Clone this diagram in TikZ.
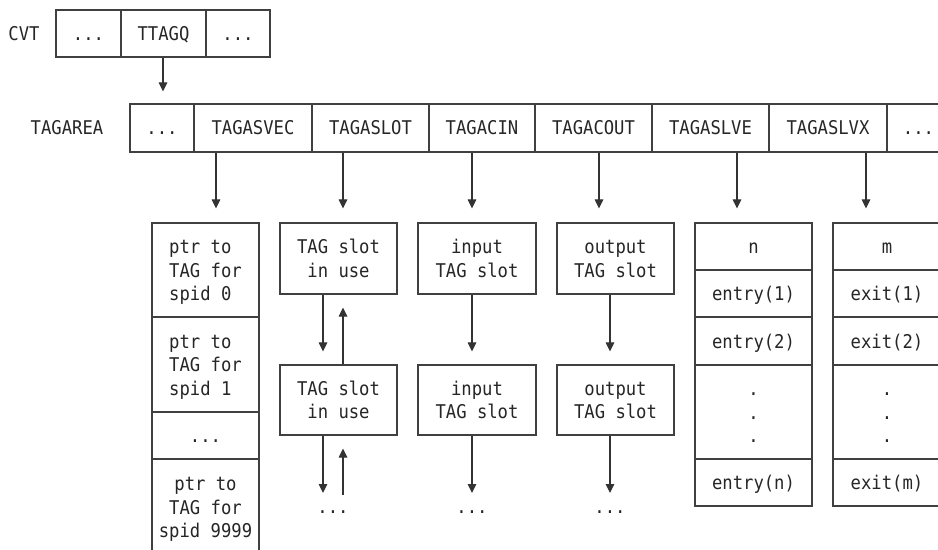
\documentclass[tikz,border=0pt]{standalone}
\usepackage{fontspec}
\setmainfont{DejaVu Sans Mono}[FakeStretch=0.91]
\usetikzlibrary{arrows.meta}
\begin{document}
\begin{tikzpicture}[x=1bp,y=-1bp,
  every node/.style={font=\fontsize{19}{23.5}\selectfont, text=black!85, inner sep=0pt},
  cell/.style={draw=black!75, line width=1.1bp},
  wh/.style 2 args={minimum width=#1bp, minimum height=#2bp},
  lone/.style={text height=14bp, text depth=0bp},
  ltwo/.style={text height=37.5bp, text depth=0bp, align=center},
  lthree/.style={text height=61bp, text depth=0bp, align=center},
  lthreeleft/.style={text height=61bp, text depth=0bp, align=left},
  arr/.style={draw=black!80, line width=1.1bp, -{Triangle[width=8.5bp,length=9bp]}}
]
\useasboundingbox (0,0) rectangle (938,550);
\clip (0,0) rectangle (938,550);

% x positions of connectors
\coordinate (k0) at (163,0);
\coordinate (k1) at (216,0);
\coordinate (k2) at (343,0);
\coordinate (k2d) at (323,0);
\coordinate (k3) at (472,0);
\coordinate (k4) at (599,0);
\coordinate (k4d) at (610,0);
\coordinate (k5) at (737,0);
\coordinate (k6) at (866,0);
\coordinate (bdown) at (0,493);
\coordinate (bup) at (0,495);

% CVT row
\node[lone] (cvtl) at (24,33.5) {CVT};
\node[cell, lone, wh={65}{47}] (c1) at (88.5,33.5) {...};
\node[cell, lone, wh={85}{47}] (c2) at (163.5,33.5) {TTAGQ};
\node[cell, lone, wh={64}{47}] (c3) at (238,33.5) {...};

% TAGAREA row
\node[lone] (tal) at (67,128) {TAGAREA};
\node[cell, lone, wh={64}{48}] (ta0) at (162,128) {...};
\node[cell, lone, wh={118}{48}] (ta1) at (253,128) {TAGASVEC};
\node[cell, lone, wh={117}{48}] (ta2) at (370.5,128) {TAGASLOT};
\node[cell, lone, wh={106}{48}] (ta3) at (482,128) {TAGACIN};
\node[cell, lone, wh={117}{48}] (ta4) at (593.5,128) {TAGACOUT};
\node[cell, lone, wh={117}{48}] (ta5) at (710.5,128) {TAGASLVE};
\node[cell, lone, wh={118}{48}] (ta6) at (828,128) {TAGASLVX};
\node[cell, lone, wh={63}{48}] (ta7) at (918.5,128) {...};

% TAGASVEC column
\node[cell, lthreeleft, wh={107}{94}] (sv0) at (205.5,270) {ptr to\\TAG for\\spid 0};
\node[cell, lthreeleft, wh={107}{95}] (sv1) at (205.5,364.5) {ptr to\\TAG for\\spid 1};
\node[cell, lone, wh={107}{47}] (sv2) at (205.5,435.5) {...};
\node[cell, lthree, wh={107}{96}] (sv3) at (205.5,507) {ptr to\\TAG for\\spid 9999};

% TAGASLOT column
\node[cell, ltwo, wh={117}{71}] (sl1) at (338.5,258.5) {TAG slot\\in use};
\node[cell, ltwo, wh={117}{70}] (sl2) at (338.5,400) {TAG slot\\in use};
\node[lone] (e2) at (333,506) {...};

% TAGACIN column
\node[cell, ltwo, wh={118}{71}] (in1) at (477,258.5) {input\\TAG slot};
\node[cell, ltwo, wh={118}{70}] (in2) at (477,400) {input\\TAG slot};
\node[lone] (e3) at (472,506) {...};

% TAGACOUT column
\node[cell, ltwo, wh={117}{71}] (out1) at (615.5,258.5) {output\\TAG slot};
\node[cell, ltwo, wh={117}{70}] (out2) at (615.5,400) {output\\TAG slot};
\node[lone] (e4) at (610,506) {...};

% TAGASLVE column
\node[cell, lone, wh={117}{47}] (ve0) at (753.5,246.5) {n};
\node[cell, lone, wh={117}{47}] (ve1) at (753.5,293.5) {entry(1)};
\node[cell, lone, wh={117}{48}] (ve2) at (753.5,341) {entry(2)};
\node[cell, lthree, wh={117}{94}] (ve3) at (753.5,412) {.\\.\\.};
\node[cell, lone, wh={117}{47}] (ve4) at (753.5,482.5) {entry(n)};

% TAGASLVX column
\node[cell, lone, wh={108}{47}] (vx0) at (887,246.5) {m};
\node[cell, lone, wh={108}{47}] (vx1) at (887,293.5) {exit(1)};
\node[cell, lone, wh={108}{48}] (vx2) at (887,341) {exit(2)};
\node[cell, lthree, wh={108}{94}] (vx3) at (887,412) {.\\.\\.};
\node[cell, lone, wh={108}{47}] (vx4) at (887,482.5) {exit(m)};

% connectors
\draw[arr, shorten >=12bp] (c2.south -| k0) -- (ta0.north -| k0);
\draw[arr, shorten >=14bp] (ta1.south -| k1) -- (sv0.north -| k1);
\draw[arr, shorten >=14bp] (ta2.south -| k2) -- (sl1.north -| k2);
\draw[arr, shorten >=14bp] (ta3.south -| k3) -- (in1.north -| k3);
\draw[arr, shorten >=14bp] (ta4.south -| k4) -- (out1.north -| k4);
\draw[arr, shorten >=14bp] (ta5.south -| k5) -- (ve0.north -| k5);
\draw[arr, shorten >=14bp] (ta6.south -| k6) -- (vx0.north -| k6);

\draw[arr, shorten >=13bp] (sl1.south -| k2d) -- (sl2.north -| k2d);
\draw[arr, shorten >=13bp] (sl2.north -| k2) -- (sl1.south -| k2);
\draw[arr] (sl2.south -| k2d) -- (bdown -| k2d);
\draw[arr, shorten >=13bp] (bup -| k2) -- (sl2.south -| k2);

\draw[arr, shorten >=13bp] (in1.south -| k3) -- (in2.north -| k3);
\draw[arr] (in2.south -| k3) -- (bdown -| k3);

\draw[arr, shorten >=13bp] (out1.south -| k4d) -- (out2.north -| k4d);
\draw[arr] (out2.south -| k4d) -- (bdown -| k4d);
\end{tikzpicture}
\end{document}
